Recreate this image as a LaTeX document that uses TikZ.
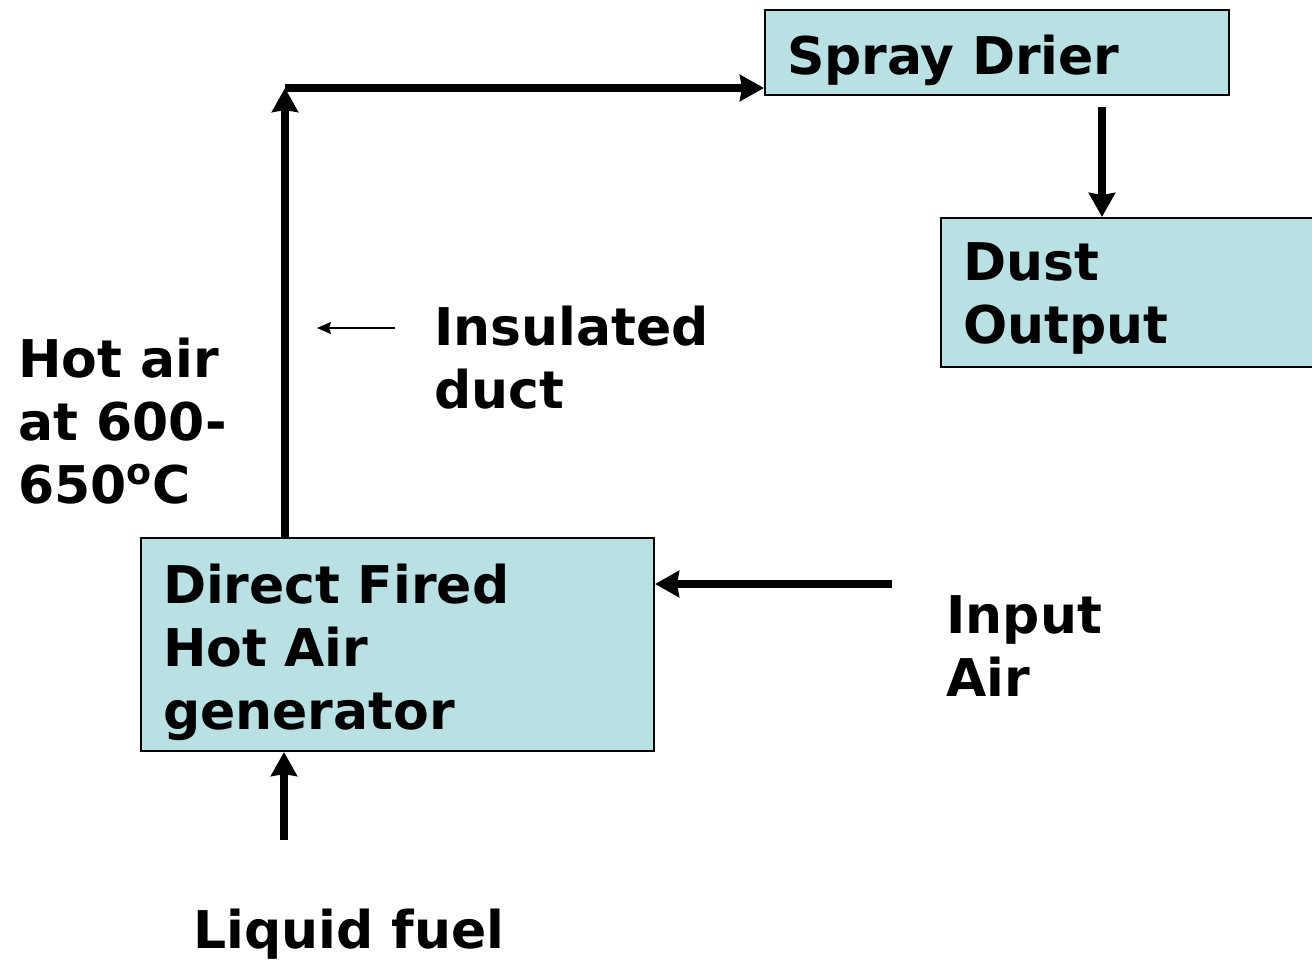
\documentclass[tikz,border=0pt]{standalone}
\usepackage{fontspec}
\setmainfont{DejaVu Sans}
\usetikzlibrary{arrows.meta}
\definecolor{boxfill}{RGB}{185,224,227}
\tikzset{
    x=0.5pt, y=-0.5pt,
    font=\bfseries\fontsize{26}{31.5}\selectfont,
    % --- estilos ---
    unitbox/.style={draw, fill=boxfill, line width=1pt, align=left,
                    anchor=north west, inner xsep=11pt, inner ysep=0pt},
    tag/.style={align=left, anchor=base west, inner sep=0pt},
    flow/.style={line width=3.75pt, -{Stealth[length=12pt, width=13pt, inset=1pt]}},
    leader/.style={line width=0.8pt, -{Stealth[length=7pt, width=6pt, inset=1pt]}}
}

\begin{document}
\begin{tikzpicture}
    \useasboundingbox (0,0) rectangle (1312,960);

    \node[unitbox, text width=210pt, text height=32pt, text depth=10.5pt] (spray) at (764,9) {Spray Drier};
    \node[unitbox, text width=184pt, text height=31pt, text depth=43.5pt] (dust) at (940,217) {Dust\\Output};
    \node[unitbox, text width=234.5pt, text height=32.5pt, text depth=74pt] (gen) at (140,537) {Direct Fired\\Hot Air\\generator};

    % base anchor sits on the last line
    \node[tag] (hotair) at (18,503) {Hot air\\at 600-\\650\textsuperscript{o}C};
    \node[tag] (duct) at (434,408) {Insulated\\duct};
    \node[tag] (inair) at (946,696) {Input\\Air};
    \node[tag] (fuel) at (193,948) {Liquid fuel};

    \coordinate (bend) at (285,88);
    \coordinate (airin) at (892,584);
    \coordinate (fuelin) at (284,840);
    \coordinate (leadstart) at (395,328);
    \coordinate (leadend) at (317,328);

    \draw[flow] (bend |- gen.north) -- (bend);
    \draw[flow] (bend) -- (bend -| spray.west);
    \draw[flow, shorten <=5.5pt] ([xshift=-64pt]spray.south east) -- ([xshift=-64pt]spray.south east |- dust.north);
    \draw[flow] (airin) -- (airin -| gen.east);
    \draw[flow] (fuelin) -- (fuelin |- gen.south);
    \draw[leader] (leadstart) -- (leadend);
\end{tikzpicture}
\end{document}
